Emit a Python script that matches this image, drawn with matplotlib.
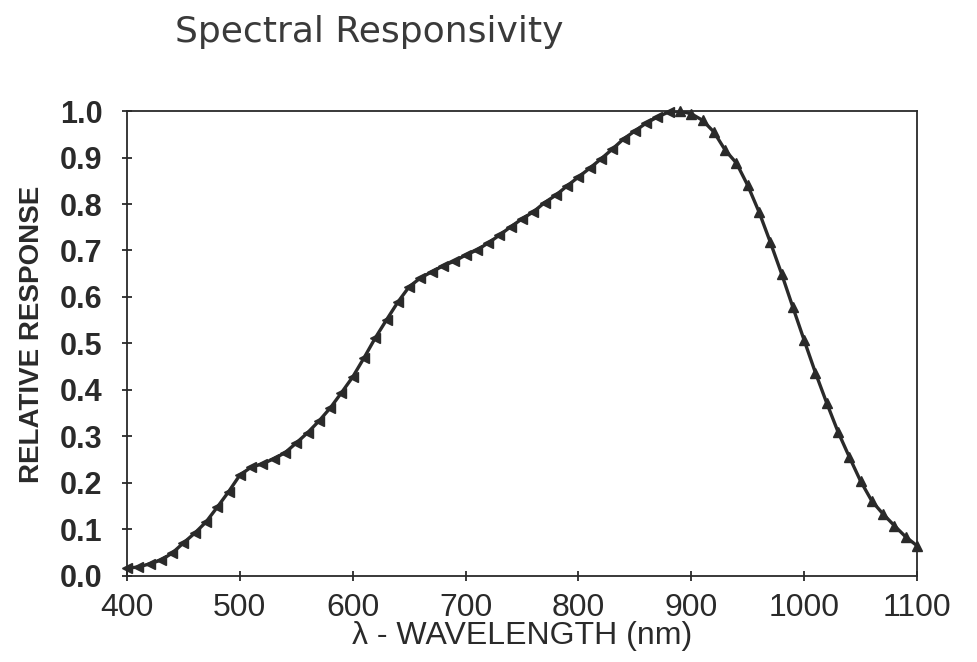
import matplotlib
matplotlib.use("Agg")
import matplotlib.pyplot as plt
import numpy as np

wavelength = [400, 410, 420, 430, 440, 450, 460, 470, 480, 490,
              500, 510, 520, 530, 540, 550, 560, 570, 580, 590,
              600, 610, 620, 630, 640, 650, 660, 670, 680, 690,
              700, 710, 720, 730, 740, 750, 760, 770, 780, 790,
              800, 810, 820, 830, 840, 850, 860, 870, 880, 890,
              900, 910, 920, 930, 940, 950, 960, 970, 980, 990,
              1000, 1010, 1020, 1030, 1040, 1050, 1060, 1070, 1080, 1090, 1100]
response = [0.017, 0.019, 0.026, 0.034, 0.049, 0.071, 0.092, 0.116, 0.148, 0.181,
            0.217, 0.234, 0.241, 0.252, 0.265, 0.286, 0.308, 0.333, 0.361, 0.394,
            0.428, 0.469, 0.512, 0.551, 0.589, 0.622, 0.641, 0.654, 0.667, 0.677,
            0.690, 0.701, 0.716, 0.733, 0.751, 0.768, 0.783, 0.803, 0.819, 0.839,
            0.858, 0.877, 0.897, 0.918, 0.940, 0.957, 0.974, 0.987, 0.998, 1.000,
            0.994, 0.980, 0.955, 0.916, 0.888, 0.840, 0.783, 0.718, 0.650, 0.578,
            0.507, 0.437, 0.372, 0.310, 0.256, 0.204, 0.161, 0.133, 0.108, 0.084, 0.065]
x_ticks = [400, 500, 600, 700, 800, 900, 1000, 1100]
y_ticks = [0.0, 0.1, 0.2, 0.3, 0.4, 0.5, 0.6, 0.7, 0.8, 0.9, 1.0]
peak_nm = 885

narrow = ['Liberation Sans Narrow', 'Liberation Sans', 'DejaVu Sans']
ink = '#2a2a2a'

fig = plt.figure(figsize=(9.77, 6.62), dpi=100)
ax = fig.add_axes([0.130, 0.130, 0.8086, 0.7023])

wl = np.array(wavelength)
rs = np.array(response)
ax.plot(wl, rs, color=ink, lw=2.4, zorder=2)
rise = wl <= peak_nm
ax.plot(wl[rise], rs[rise], ls='none', marker='<', ms=7.5, color=ink, zorder=3, clip_on=False)
ax.plot(wl[~rise], rs[~rise], ls='none', marker='^', ms=7.5, color=ink, zorder=3, clip_on=False)

ax.set_xlim(400, 1100)
ax.set_ylim(0.0, 1.0)
ax.set_xticks(x_ticks)
ax.set_yticks(y_ticks)
ax.set_xticklabels([str(t) for t in x_ticks], family=narrow, fontsize=23, color=ink)
ax.set_yticklabels([f"{t:.1f}" for t in y_ticks], family=narrow, fontsize=22,
                   fontweight='bold', color=ink)
ax.tick_params(axis='both', direction='inout', length=7, width=1.3, color=ink)
ax.tick_params(axis='x', pad=9)
ax.tick_params(axis='y', pad=14)
for s in ax.spines.values():
    s.set_linewidth(1.3)
    s.set_color(ink)

ax.set_xlabel("λ - WAVELENGTH (nm)", family=narrow, fontsize=23, color=ink, labelpad=-2)
ax.set_ylabel("RELATIVE RESPONSE", family=narrow, fontsize=20, fontweight='bold',
              color=ink)
ax.yaxis.set_label_coords(-0.104, 0.52)

fig.text(0.179, 0.952, "Spectral Responsivity", fontsize=26, color='#3a3a3a',
         family=['DejaVu Sans'], ha='left', va='center')

fig.savefig("out.png", dpi=100)
